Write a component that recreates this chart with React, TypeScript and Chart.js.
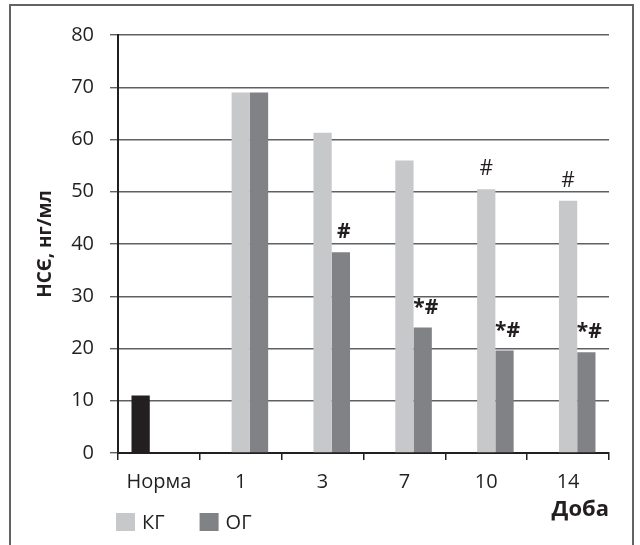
import React, { useEffect, useRef } from "react";
import { Chart, registerables } from "chart.js";

Chart.register(...registerables);

// Categories on the x axis (days after onset, plus the reference norm)
const categories = ["Норма", "1", "3", "7", "10", "14"];

// НСЄ concentration, ng/ml
const normaValues = [11.0, null, null, null, null, null];
const kgValues = [null, 69.0, 61.3, 56.0, 50.5, 48.3];
const ogValues = [null, 69.0, 38.4, 24.0, 19.6, 19.3];

// Significance markers written above the bars
const kgMarks = ["", "", "", "", "#", "#"];
const ogMarks = ["", "", "#", "*#", "*#", "*#"];

// Axis settings
const yMin = 0;
const yMax = 80;
const yStep = 10;

const FONT = "'Open Sans', 'Noto Sans', sans-serif";
const TEXT = "#231f20";
const KG_COLOR = "#c7c8ca";
const OG_COLOR = "#808285";
const NORMA_COLOR = "#231f20";

const markerPlugin = {
  id: "barMarkers",
  afterDatasetsDraw(chart: any) {
    const { ctx } = chart;
    const sets = [
      { index: 1, marks: kgMarks, bold: false, dx: 0 },
      { index: 2, marks: ogMarks, bold: true, dx: 3 },
    ];
    ctx.save();
    ctx.fillStyle = TEXT;
    ctx.textAlign = "center";
    ctx.textBaseline = "middle";
    sets.forEach((s) => {
      const meta = chart.getDatasetMeta(s.index);
      s.marks.forEach((m, i) => {
        if (!m) return;
        const el = meta.data[i];
        if (!el) return;
        ctx.font = `${s.bold ? "bold " : ""}21px ${FONT}`;
        ctx.fillText(m, el.x + s.dx, el.y - 20);
      });
    });
    ctx.restore();
  },
};

const legendPlugin = {
  id: "bottomLegend",
  afterDraw(chart: any) {
    const { ctx, chartArea } = chart;
    const items = [1, 2].map((i) => chart.data.datasets[i]);
    const boxW = 19;
    const boxH = 18;
    const top = chart.height - 32;
    let x = chartArea.left - 2;
    ctx.save();
    ctx.font = `20px ${FONT}`;
    ctx.textBaseline = "middle";
    ctx.textAlign = "left";
    items.forEach((ds: any) => {
      ctx.fillStyle = ds.backgroundColor;
      ctx.fillRect(x, top, boxW, boxH);
      ctx.fillStyle = TEXT;
      const tx = x + boxW + 7;
      ctx.fillText(ds.label, tx, top + boxH / 2 + 1);
      x = tx + ctx.measureText(ds.label).width + 35;
    });
    ctx.restore();
  },
};

export default function App() {
  const canvasRef = useRef<HTMLCanvasElement | null>(null);

  useEffect(() => {
    if (!canvasRef.current) return;
    const chart = new Chart(canvasRef.current, {
      type: "bar",
      data: {
        labels: categories,
        datasets: [
          { label: "Норма", data: normaValues, backgroundColor: NORMA_COLOR },
          { label: "КГ", data: kgValues, backgroundColor: KG_COLOR },
          { label: "ОГ", data: ogValues, backgroundColor: OG_COLOR },
        ],
      },
      options: {
        responsive: false,
        animation: false,
        devicePixelRatio: 1,
        layout: { padding: { left: 34, top: 35, right: 31, bottom: 22 } },
        datasets: { bar: { categoryPercentage: 0.67, barPercentage: 1 } },
        plugins: {
          legend: { display: false },
          tooltip: { enabled: false },
        },
        scales: {
          x: {
            grid: {
              display: true,
              drawOnChartArea: false,
              drawTicks: true,
              tickLength: 7,
              color: TEXT,
              lineWidth: 1.5,
            },
            border: { display: true, color: TEXT, width: 2 },
            ticks: {
              color: TEXT,
              font: { family: FONT, size: 20 },
              padding: 10,
              maxRotation: 0,
            },
            title: {
              display: true,
              text: "Доба",
              align: "end",
              color: TEXT,
              font: { family: FONT, size: 22, weight: "bold" },
              padding: { top: 0, bottom: 0 },
            },
            afterFit: (scale: any) => {
              scale.height = 70;
            },
          },
          y: {
            min: yMin,
            max: yMax,
            grid: {
              color: "#5f6063",
              lineWidth: 1.4,
              drawTicks: true,
              tickLength: 8,
            },
            border: { display: true, color: TEXT, width: 2 },
            ticks: {
              stepSize: yStep,
              color: TEXT,
              font: { family: FONT, size: 20 },
              padding: 16,
            },
            title: {
              display: true,
              text: "НСЄ, нг/мл",
              color: TEXT,
              font: { family: FONT, size: 19, weight: "bold" },
              padding: { top: 0, bottom: 0 },
            },
            afterFit: (scale: any) => {
              scale.width = 84;
            },
          },
        },
      },
      plugins: [markerPlugin, legendPlugin],
    });
    return () => chart.destroy();
  }, []);

  return (
    <div
      style={{
        position: "fixed",
        left: 0,
        top: 0,
        width: 640,
        height: 545,
        background: "#fff",
        overflow: "hidden",
      }}
    >
      <div
        style={{
          position: "absolute",
          left: 9,
          top: 4,
          width: 625,
          height: 600,
          border: "2px solid #626366",
          boxSizing: "border-box",
        }}
      />
      <canvas
        ref={canvasRef}
        width={640}
        height={545}
        style={{ position: "absolute", left: 0, top: 0, width: 640, height: 545 }}
      />
    </div>
  );
}
